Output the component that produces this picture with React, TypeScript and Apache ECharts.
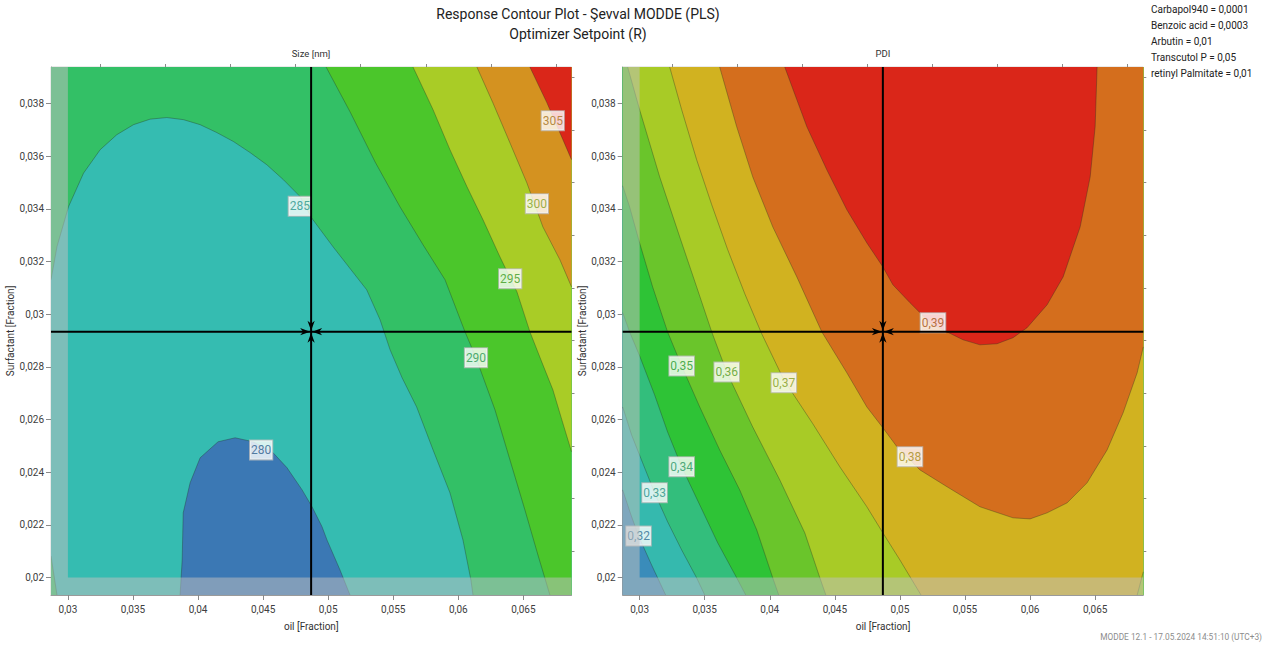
import React, { useEffect, useRef } from "react";
import * as echarts from "echarts";

const FONT = 'Roboto, "Open Sans", sans-serif';

// Axis extents (data units)
const X_MIN = 0.0287;
const X_MAX = 0.0687;
const Y_MIN = 0.01934;
const Y_MAX = 0.03939;
// Optimizer setpoint (crosshair)
const SETPOINT = [0.04869, 0.02934];
// Lower bounds of the experimental domain (outside is shaded)
const DOMAIN_X_LOW = 0.03;
const DOMAIN_Y_LOW = 0.02;

const xMajorTicks = [0.03, 0.035, 0.04, 0.045, 0.05, 0.055, 0.06, 0.065];
const xMinorTicks = [0.0325, 0.0375, 0.0425, 0.0475, 0.0525, 0.0575, 0.0625, 0.0675];
const yMajorTicks = [0.02, 0.022, 0.024, 0.026, 0.028, 0.03, 0.032, 0.034, 0.036, 0.038];
const yMinorTicks = [0.021, 0.023, 0.025, 0.027, 0.029, 0.031, 0.033, 0.035, 0.037, 0.039];

const factorTexts = [
  "Carbapol940 = 0,0001",
  "Benzoic acid = 0,0003",
  "Arbutin = 0,01",
  "Transcutol P = 0,05",
  "retinyl Palmitate = 0,01",
];

// ---------- Size [nm] ----------
const sizeBandColors = ["#3B78B4", "#35BCB1", "#33C066", "#4BC62B", "#A9CC26", "#D49220", "#DA2619"];
const size280 = [[0.03862,0.01934],[0.03878,0.02067],[0.03886,0.02246],[0.03939,0.0236],[0.04016,0.02455],[0.04154,0.02516],[0.04285,0.02531],[0.04423,0.02516],[0.04577,0.02474],[0.04684,0.02417],[0.048,0.02333],[0.04876,0.02269],[0.04953,0.02193],[0.04991,0.02143],[0.05091,0.02029],[0.05168,0.01934]];
const size285 = [[0.0287,0.03131],[0.02916,0.03257],[0.03005,0.03409],[0.0312,0.03536],[0.03248,0.03625],[0.03376,0.03682],[0.03504,0.0372],[0.03632,0.03741],[0.0376,0.03747],[0.03888,0.03739],[0.04016,0.0372],[0.04144,0.0369],[0.04272,0.03656],[0.044,0.03614],[0.04528,0.03568],[0.04656,0.03511],[0.04784,0.03447],[0.04874,0.03365],[0.05038,0.03256],[0.05296,0.03093],[0.05399,0.02979],[0.05476,0.02865],[0.05568,0.02759],[0.0568,0.02648],[0.05806,0.02485],[0.05936,0.02322],[0.06036,0.02143],[0.06097,0.01991],[0.06113,0.01934]];
const size285Corner = [[0.0287,0.02082],[0.02916,0.01934]];
const size290 = [[0.04984,0.03939],[0.05168,0.03769],[0.0536,0.03579],[0.05552,0.03408],[0.05729,0.03264],[0.05898,0.03131],[0.06051,0.02934],[0.06136,0.02835],[0.06282,0.02637],[0.06397,0.02447],[0.06512,0.02257],[0.06612,0.02086],[0.06704,0.01934]];
const size295 = [[0.05652,0.03939],[0.05806,0.03777],[0.05936,0.03625],[0.06067,0.03484],[0.0619,0.03359],[0.0632,0.03218],[0.06451,0.03085],[0.0655,0.02934],[0.06635,0.02827],[0.06727,0.02713],[0.06796,0.02599],[0.0687,0.02478]];
const size300 = [[0.06143,0.03939],[0.06266,0.03803],[0.06397,0.03651],[0.06527,0.03499],[0.0665,0.03332],[0.06781,0.03207],[0.0687,0.03104]];
const size305 = [[0.0655,0.03939],[0.06681,0.03803],[0.06804,0.03663],[0.0687,0.03587]];
const sizeLabelX = [0.04485, 0.04782, 0.06136, 0.06399, 0.06604, 0.06726];
const sizeLabelY = [0.02485, 0.0341, 0.02835, 0.03135, 0.0342, 0.03735];
const sizeLabelText = ["280", "285", "290", "295", "300", "305"];

// ---------- PDI ----------
const pdiBandColors = ["#3A8CBA", "#35B9AE", "#33BE7C", "#2EC336", "#6AC52B", "#A8CB26", "#D1B220", "#D46E1D", "#DA2619"];
const pdi32 = [[0.0287,0.02333],[0.02931,0.02242],[0.02992,0.02158],[0.03092,0.02048],[0.032,0.01934]];
const pdi33 = [[0.0287,0.02648],[0.02938,0.02542],[0.03023,0.02436],[0.03115,0.02322],[0.03215,0.02212],[0.03323,0.02105],[0.03438,0.01999],[0.035,0.01934]];
const pdi34 = [[0.0287,0.03006],[0.02923,0.02933],[0.03,0.02842],[0.03115,0.02694],[0.03215,0.02553],[0.03323,0.02421],[0.03462,0.02276],[0.036,0.02132],[0.03746,0.01999],[0.03815,0.01934]];
const pdi35 = [[0.0287,0.03488],[0.02923,0.03408],[0.03,0.03271],[0.031,0.03104],[0.03215,0.02933],[0.03323,0.02804],[0.03462,0.02648],[0.03615,0.02485],[0.03769,0.02333],[0.039,0.02181],[0.04023,0.01999],[0.04069,0.01934]];
const pdi36 = [[0.02908,0.03939],[0.03,0.03777],[0.03154,0.03522],[0.03308,0.03294],[0.03438,0.03104],[0.03554,0.02933],[0.03669,0.02781],[0.03869,0.02572],[0.04077,0.02371],[0.04269,0.0217],[0.04385,0.01999],[0.04431,0.01934]];
const pdi37 = [[0.03231,0.03939],[0.03323,0.03777],[0.03438,0.03587],[0.03554,0.03416],[0.03677,0.03245],[0.03808,0.03078],[0.03938,0.02926],[0.04108,0.02751],[0.04331,0.02584],[0.04538,0.02421],[0.04746,0.02269],[0.04869,0.0217],[0.05,0.02067],[0.05162,0.01934]];
const pdi37Corner = [[0.06823,0.01934],[0.0687,0.02022]];
const pdi38 = [[0.03615,0.03939],[0.03746,0.03712],[0.03869,0.03522],[0.04023,0.03332],[0.04208,0.03142],[0.044,0.02933],[0.04592,0.02778],[0.04746,0.02648],[0.04869,0.02569],[0.04977,0.02497],[0.05154,0.02409],[0.05362,0.02345],[0.05615,0.02269],[0.05869,0.02227],[0.06,0.02223],[0.06131,0.02246],[0.06285,0.02284],[0.06438,0.0236],[0.06592,0.02485],[0.06715,0.02626],[0.06823,0.02778],[0.0687,0.02876]];
const pdi39 = [[0.04115,0.03939],[0.04285,0.03712],[0.04438,0.03549],[0.04592,0.03397],[0.04746,0.03271],[0.04869,0.0318],[0.04946,0.03112],[0.05077,0.03044],[0.05231,0.02968],[0.05362,0.02933],[0.05485,0.02903],[0.05615,0.02884],[0.05746,0.02888],[0.05869,0.02911],[0.05977,0.02949],[0.06131,0.03036],[0.06254,0.03142],[0.06385,0.03332],[0.06462,0.03522],[0.065,0.03712],[0.06515,0.03939]];
const pdiLabelX = [0.02992, 0.03115, 0.03323, 0.03323, 0.03669, 0.04108, 0.05077, 0.05254];
const pdiLabelY = [0.02158, 0.02322, 0.02421, 0.02804, 0.02781, 0.0274, 0.02459, 0.02968];
const pdiLabelText = ["0,32", "0,33", "0,34", "0,35", "0,36", "0,37", "0,38", "0,39"];

// ---------- helpers ----------
const TL = [X_MIN, Y_MAX];
const TR = [X_MAX, Y_MAX];
const BR = [X_MAX, Y_MIN];
const BL = [X_MIN, Y_MIN];

function darken(hex: string, f: number) {
  const n = parseInt(hex.slice(1), 16);
  const r = Math.round(((n >> 16) & 255) * f);
  const g = Math.round(((n >> 8) & 255) * f);
  const b = Math.round((n & 255) * f);
  return `rgb(${r},${g},${b})`;
}

const fmt = (v: number) => String(Math.round(v * 10000) / 10000).replace(".", ",");

type Poly = { points: number[][]; color: string };

function polygonSeries(axisIdx: number, polys: Poly[], z: number) {
  return {
    type: "custom",
    xAxisIndex: axisIdx,
    yAxisIndex: axisIdx,
    z,
    silent: true,
    clip: true,
    data: polys.map((_, i) => [X_MIN, Y_MIN, i]),
    encode: { x: 0, y: 1 },
    renderItem: (params: any, api: any) => {
      const p = polys[params.dataIndex];
      return {
        type: "polygon",
        shape: { points: p.points.map((pt) => api.coord(pt)) },
        style: { fill: p.color, stroke: null },
      };
    },
  };
}

function lineSeries(axisIdx: number, lines: number[][][], z: number) {
  return {
    type: "custom",
    xAxisIndex: axisIdx,
    yAxisIndex: axisIdx,
    z,
    silent: true,
    clip: true,
    data: lines.map((_, i) => [X_MIN, Y_MIN, i]),
    encode: { x: 0, y: 1 },
    renderItem: (params: any, api: any) => {
      const l = lines[params.dataIndex];
      return {
        type: "polyline",
        shape: { points: l.map((pt) => api.coord(pt)) },
        style: { stroke: "rgba(35,45,35,0.38)", lineWidth: 0.9, fill: null },
      };
    },
  };
}

function labelSeries(axisIdx: number, xs: number[], ys: number[], texts: string[], colors: string[], z: number) {
  return {
    type: "scatter",
    xAxisIndex: axisIdx,
    yAxisIndex: axisIdx,
    z,
    silent: true,
    symbol: "circle",
    symbolSize: 1,
    itemStyle: { color: "rgba(0,0,0,0)" },
    data: xs.map((x, i) => ({ value: [x, ys[i]], name: texts[i], label: { color: colors[i] } })),
    label: {
      show: true,
      position: "inside",
      formatter: "{b}",
      fontSize: 12,
      fontFamily: FONT,
      backgroundColor: "#ffffff",
      borderColor: "#bdbdbd",
      borderWidth: 1,
      padding: [4, 1, 3, 1],
    },
  };
}

function crosshairSeries(axisIdx: number, z: number) {
  return {
    type: "custom",
    xAxisIndex: axisIdx,
    yAxisIndex: axisIdx,
    z,
    silent: true,
    data: [SETPOINT],
    encode: { x: 0, y: 1 },
    renderItem: (params: any, api: any) => {
      const pt = api.coord([api.value(0), api.value(1)]);
      const cs = params.coordSys;
      const cx = pt[0];
      const cy = pt[1];
      const L = 11, W = 3.6, N = 8, g = 1;
      const dart = (dx: number, dy: number) => {
        const tip = [cx - dx * g, cy - dy * g];
        const back = [cx - dx * L, cy - dy * L];
        const notch = [cx - dx * N, cy - dy * N];
        const px = -dy, py = dx;
        return {
          type: "polygon",
          shape: { points: [tip, [back[0] + px * W, back[1] + py * W], notch, [back[0] - px * W, back[1] - py * W]] },
          style: { fill: "#000" },
        };
      };
      return {
        type: "group",
        children: [
          { type: "line", shape: { x1: cs.x, y1: cy, x2: cs.x + cs.width, y2: cy }, style: { stroke: "#000", lineWidth: 2 } },
          { type: "line", shape: { x1: cx, y1: cs.y, x2: cx, y2: cs.y + cs.height }, style: { stroke: "#000", lineWidth: 2 } },
          dart(1, 0),
          dart(-1, 0),
          dart(0, 1),
          dart(0, -1),
        ],
      };
    },
  };
}

function xAxes(grid: number) {
  return [
    {
      type: "value",
      gridIndex: grid,
      min: X_MIN,
      max: X_MAX,
      name: "oil [Fraction]",
      nameLocation: "middle",
      nameGap: 26,
      nameTextStyle: { fontSize: 10, color: "#333", fontFamily: FONT },
      axisLine: { show: true, onZero: false, lineStyle: { color: "#9a9a9a", width: 1 } },
      axisTick: { show: true, length: 5, customValues: xMajorTicks, lineStyle: { color: "#8a8a8a" } },
      axisLabel: { show: true, customValues: xMajorTicks, formatter: fmt, fontSize: 10, color: "#404040", margin: 9, fontFamily: FONT },
      splitLine: { show: false },
    },
    {
      type: "value",
      gridIndex: grid,
      min: X_MIN,
      max: X_MAX,
      axisLine: { show: false, onZero: false },
      axisTick: { show: true, length: 3, customValues: xMinorTicks, lineStyle: { color: "#8a8a8a" } },
      axisLabel: { show: false },
      splitLine: { show: false },
    },
  ];
}

function yAxes(grid: number) {
  return [
    {
      type: "value",
      gridIndex: grid,
      min: Y_MIN,
      max: Y_MAX,
      name: "Surfactant [Fraction]",
      nameLocation: "middle",
      nameGap: 32,
      nameTextStyle: { fontSize: 10, color: "#333", fontFamily: FONT },
      axisLine: { show: true, onZero: false, lineStyle: { color: "#9a9a9a", width: 1 } },
      axisTick: { show: true, length: 5, customValues: yMajorTicks, lineStyle: { color: "#8a8a8a" } },
      axisLabel: { show: true, customValues: yMajorTicks, formatter: fmt, fontSize: 10, color: "#404040", margin: 7, fontFamily: FONT },
      splitLine: { show: false },
    },
    {
      type: "value",
      gridIndex: grid,
      min: Y_MIN,
      max: Y_MAX,
      axisLine: { show: false, onZero: false },
      axisTick: { show: true, length: 3, customValues: yMinorTicks, lineStyle: { color: "#8a8a8a" } },
      axisLabel: { show: false },
      splitLine: { show: false },
    },
  ];
}

function text(x: number, y: number, t: string, size: number, color: string, align: string) {
  return {
    type: "text",
    x,
    y,
    silent: true,
    style: {
      text: t,
      fill: color,
      font: `${size}px ${FONT}`,
      align,
      verticalAlign: "middle",
      textAlign: align,
      textVerticalAlign: "middle",
    },
  };
}

export default function App() {
  const ref = useRef<HTMLDivElement>(null);

  useEffect(() => {
    if (!ref.current) return;
    const chart = echarts.init(ref.current, undefined, { renderer: "svg" });

    const overlay: Poly = {
      points: [TL, [DOMAIN_X_LOW, Y_MAX], [DOMAIN_X_LOW, DOMAIN_Y_LOW], [X_MAX, DOMAIN_Y_LOW], BR, BL],
      color: "rgba(192,192,192,0.52)",
    };

    const sizePolys: Poly[] = [
      { points: [TL, TR, BR, BL], color: sizeBandColors[1] },
      { points: size280, color: sizeBandColors[0] },
      { points: [...size285, BR, TR, TL], color: sizeBandColors[2] },
      { points: [...size285Corner, BL], color: sizeBandColors[2] },
      { points: [...size290, BR, TR], color: sizeBandColors[3] },
      { points: [...size295, TR], color: sizeBandColors[4] },
      { points: [...size300, TR], color: sizeBandColors[5] },
      { points: [...size305, TR], color: sizeBandColors[6] },
    ];
    const sizeLines = [size280, size285, size285Corner, size290, size295, size300, size305];
    const sizeLabelColors = sizeLabelText.map((_, i) => darken(sizeBandColors[i], 0.78));

    const pdiPolys: Poly[] = [
      { points: [TL, TR, BR, BL], color: pdiBandColors[0] },
      { points: [...pdi32, BR, TR, TL], color: pdiBandColors[1] },
      { points: [...pdi33, BR, TR, TL], color: pdiBandColors[2] },
      { points: [...pdi34, BR, TR, TL], color: pdiBandColors[3] },
      { points: [...pdi35, BR, TR, TL], color: pdiBandColors[4] },
      { points: [...pdi36, BR, TR], color: pdiBandColors[5] },
      { points: [...pdi37, ...pdi37Corner, TR], color: pdiBandColors[6] },
      { points: [...pdi38, TR], color: pdiBandColors[7] },
      { points: pdi39, color: pdiBandColors[8] },
    ];
    const pdiLines = [pdi32, pdi33, pdi34, pdi35, pdi36, pdi37, pdi37Corner, pdi38, pdi39];
    const pdiLabelColors = pdiLabelText.map((_, i) => darken(pdiBandColors[i], 0.78));

    const option: any = {
      animation: false,
      backgroundColor: "#ffffff",
      textStyle: { fontFamily: FONT },
      grid: [
        { left: 51, top: 67, width: 520.5, height: 528, show: true, borderColor: "#d4d4d4", borderWidth: 1, backgroundColor: "transparent" },
        { left: 622.7, top: 67, width: 520.6, height: 528, show: true, borderColor: "#d4d4d4", borderWidth: 1, backgroundColor: "transparent" },
      ],
      xAxis: [...xAxes(0), ...xAxes(1)],
      yAxis: [...yAxes(0), ...yAxes(1)],
      graphic: [
        text(578, 14, "Response Contour Plot - Şevval MODDE (PLS)", 14, "#222", "center"),
        text(578, 34, "Optimizer Setpoint (R)", 14, "#222", "center"),
        text(311, 53, "Size [nm]", 9.5, "#333", "center"),
        text(883, 53, "PDI", 9.5, "#333", "center"),
        ...factorTexts.map((t, i) => text(1151, 9.5 + i * 15.9, t, 10, "#222", "left")),
        text(1262, 637, "MODDE 12.1 - 17.05.2024 14:51:10 (UTC+3)", 8.3, "#8c8c8c", "right"),
      ],
      series: [
        polygonSeries(0, sizePolys, 1),
        lineSeries(0, sizeLines, 2),
        labelSeries(0, sizeLabelX, sizeLabelY, sizeLabelText, sizeLabelColors, 3),
        polygonSeries(0, [overlay], 4),
        crosshairSeries(0, 5),
        polygonSeries(2, pdiPolys, 1),
        lineSeries(2, pdiLines, 2),
        labelSeries(2, pdiLabelX, pdiLabelY, pdiLabelText, pdiLabelColors, 3),
        polygonSeries(2, [overlay], 4),
        crosshairSeries(2, 5),
      ],
    };

    chart.setOption(option);
    return () => chart.dispose();
  }, []);

  return (
    <div
      ref={ref}
      style={{ position: "absolute", left: 0, top: 0, width: 1273, height: 645 }}
    />
  );
}
